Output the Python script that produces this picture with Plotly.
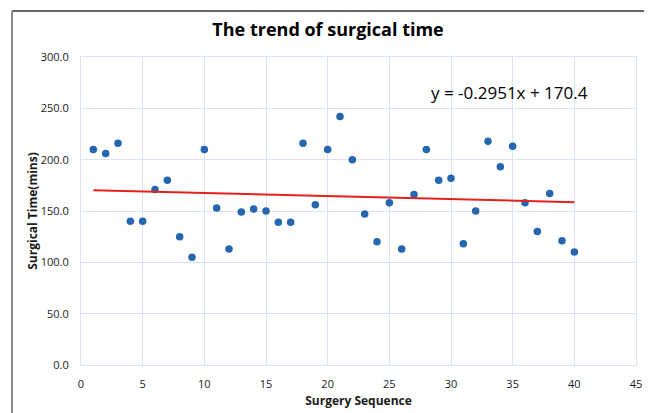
import plotly.graph_objects as go

sequence = list(range(1, 41))
surgical_time = [210, 206, 216, 140, 140, 171, 180, 125, 105, 210,
                 153, 113, 149, 152, 150, 139, 139, 216, 156, 210,
                 242, 200, 147, 120, 158, 113, 166, 210, 180, 182,
                 118, 150, 218, 193, 213, 158, 130, 167, 121, 110]
trend_slope = -0.2951
trend_intercept = 170.4
x_ticks = [0, 5, 10, 15, 20, 25, 30, 35, 40, 45]
y_ticks = [0, 50, 100, 150, 200, 250, 300]

trend_x = [sequence[0], sequence[-1]]
trend_y = [trend_slope * v + trend_intercept for v in trend_x]

font = "Open Sans"
grid = "#d9e2f0"

fig = go.Figure()
fig.add_trace(go.Scatter(x=sequence, y=surgical_time, mode="markers",
                         marker=dict(color="#2467b0", size=7.5), showlegend=False))
fig.add_trace(go.Scatter(x=trend_x, y=trend_y, mode="lines",
                         line=dict(color="#e5211d", width=2), showlegend=False))

fig.update_layout(
    width=644, height=405,
    margin=dict(l=73, r=16, t=49, b=48, autoexpand=False),
    paper_bgcolor="white", plot_bgcolor="white",
    title=dict(text="<b>The trend of surgical time</b>", x=0.497, xanchor="center",
               y=0.9457, yanchor="middle", font=dict(family=font, size=18, color="black")),
    font=dict(family=font, color="#222"),
    xaxis=dict(range=[0, 45], tickvals=x_ticks, ticktext=[str(v) for v in x_ticks],
               automargin=False,
               showgrid=True, gridcolor=grid, gridwidth=1, zeroline=False,
               showline=True, linecolor=grid, mirror=True, ticks="",
               ticklabelstandoff=9,
               tickfont=dict(size=11, color="#1a1a1a", family=font),
               title=dict(text="<b>Surgery Sequence</b>", standoff=6,
                          font=dict(size=12, color="#1a1a1a", family=font))),
    yaxis=dict(range=[0, 300], tickvals=y_ticks, ticktext=[f"{v:.1f}" for v in y_ticks],
               automargin=False,
               showgrid=True, gridcolor=grid, gridwidth=1, zeroline=False,
               showline=True, linecolor=grid, mirror=True, ticks="",
               ticklabelstandoff=9,
               tickfont=dict(size=11, color="#1a1a1a", family=font),
               title=dict(text="<b>Surgical Time(mins)</b>", standoff=0,
                          font=dict(size=12, color="#1a1a1a", family=font))),
    annotations=[dict(text=f"y = {trend_slope}x + {trend_intercept}", xref="paper", yref="paper",
                      x=0.917, y=0.886, xanchor="right", yanchor="middle", showarrow=False,
                      font=dict(size=17, color="black", family=font))],
    shapes=[
        dict(type="line", xref="paper", yref="paper", x0=-0.1243, x1=1.05, y0=1.149, y1=1.149,
             line=dict(color="#333", width=1.5)),
        dict(type="line", xref="paper", yref="paper", x0=-0.1243, x1=-0.1243, y0=1.149, y1=-0.16,
             line=dict(color="#888", width=2)),
    ],
)

fig.write_html("out.html")
